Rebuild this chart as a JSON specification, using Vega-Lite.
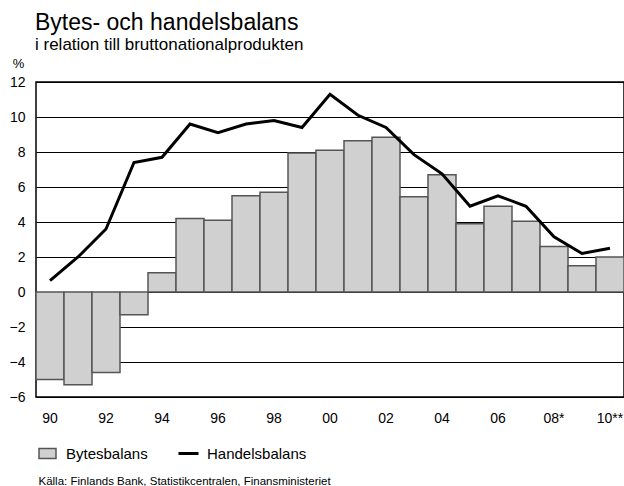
{
  "$schema": "https://vega.github.io/schema/vega-lite/v6.json",
  "width": 588,
  "height": 315,
  "autosize": "none",
  "padding": {"left": 36, "top": 82, "right": 0, "bottom": 89},
  "title": {
    "text": "Bytes- och handelsbalans",
    "subtitle": "i relation till bruttonationalprodukten",
    "anchor": "start",
    "frame": "group",
    "dx": -1,
    "offset": 4,
    "fontSize": 23,
    "fontWeight": "normal",
    "subtitleFontSize": 17,
    "subtitlePadding": 2,
    "color": "black",
    "subtitleColor": "black"
  },
  "config": {
    "font": "Liberation Sans",
    "view": {"stroke": "black", "strokeWidth": 1.5},
    "axis": {"labelColor": "black", "titleColor": "black", "labelFont": "Liberation Sans", "titleFont": "Liberation Sans", "labelFontWeight": "normal"},
    "legend": {"labelColor": "black", "labelFont": "Liberation Sans"}
  },
  "data": {
    "values": [
      {"year": 1990, "bytes": -5.0, "handel": 0.65},
      {"year": 1991, "bytes": -5.3, "handel": 2.0},
      {"year": 1992, "bytes": -4.6, "handel": 3.6},
      {"year": 1993, "bytes": -1.3, "handel": 7.4},
      {"year": 1994, "bytes": 1.1, "handel": 7.7},
      {"year": 1995, "bytes": 4.2, "handel": 9.6},
      {"year": 1996, "bytes": 4.1, "handel": 9.1},
      {"year": 1997, "bytes": 5.5, "handel": 9.6},
      {"year": 1998, "bytes": 5.7, "handel": 9.8},
      {"year": 1999, "bytes": 7.95, "handel": 9.4},
      {"year": 2000, "bytes": 8.1, "handel": 11.3},
      {"year": 2001, "bytes": 8.65, "handel": 10.1},
      {"year": 2002, "bytes": 8.85, "handel": 9.4},
      {"year": 2003, "bytes": 5.45, "handel": 7.85},
      {"year": 2004, "bytes": 6.7, "handel": 6.75},
      {"year": 2005, "bytes": 3.9, "handel": 4.9},
      {"year": 2006, "bytes": 4.9, "handel": 5.5},
      {"year": 2007, "bytes": 4.05, "handel": 4.9},
      {"year": 2008, "bytes": 2.6, "handel": 3.15},
      {"year": 2009, "bytes": 1.5, "handel": 2.2},
      {"year": 2010, "bytes": 2.0, "handel": 2.5}
    ]
  },
  "encoding": {
    "x": {
      "field": "year",
      "type": "ordinal",
      "scale": {"paddingInner": 0, "paddingOuter": 0},
      "axis": {
        "values": [1990, 1992, 1994, 1996, 1998, 2000, 2002, 2004, 2006, 2008, 2010],
        "labelExpr": "substring(datum.label, 2) + (datum.value == 2008 ? '*' : datum.value == 2010 ? '**' : '')",
        "labelAngle": 0,
        "labelFontSize": 14,
        "labelFontWeight": "normal",
        "labelPadding": 14,
        "labelOverlap": false,
        "ticks": false,
        "tickSize": 0,
        "domain": false,
        "grid": false,
        "title": "Källa: Finlands Bank, Statistikcentralen, Finansministeriet",
        "titleFontSize": 11.5,
        "titleFontWeight": "normal",
        "titleX": 2,
        "titleY": 84,
        "titleAlign": "left",
        "titleAnchor": "start",
        "titleBaseline": "middle"
      }
    }
  },
  "layer": [
    {
      "mark": {"type": "bar", "stroke": "#555555", "strokeWidth": 1.5},
      "encoding": {
        "y": {
          "field": "bytes",
          "type": "quantitative",
          "scale": {"domain": [-6, 12], "nice": false},
          "axis": {
            "values": [-6, -4, -2, 0, 2, 4, 6, 8, 10, 12],
            "tickCount": 20,
            "labelFontSize": 14,
            "labelFontWeight": "normal",
            "labelPadding": 11,
            "labelOverlap": false,
            "labelFlush": false,
            "labelBound": false,
            "ticks": false,
            "tickSize": 0,
            "domain": false,
            "grid": true,
            "gridColor": "black",
            "gridWidth": 1,
            "gridOpacity": 1,
            "title": "%",
            "titleAngle": 0,
            "titleFontSize": 13,
            "titleFontWeight": "normal",
            "titleX": -18,
            "titleY": -15,
            "titleAlign": "center",
            "titleBaseline": "alphabetic"
          }
        },
        "fill": {
          "datum": "Bytesbalans",
          "scale": {"range": ["#d0d0d0"]},
          "legend": {
            "orient": "none",
            "legendX": 2,
            "legendY": 362,
            "title": null,
            "padding": 0,
            "symbolType": "M-1,-0.6H1V0.6H-1Z",
            "symbolSize": 289,
            "symbolStrokeColor": "#555555",
            "symbolStrokeWidth": 1.5,
            "labelFontSize": 15,
            "labelOffset": 9
          }
        }
      }
    },
    {
      "mark": {"type": "line", "strokeWidth": 3},
      "encoding": {
        "y": {"field": "handel", "type": "quantitative"},
        "stroke": {
          "datum": "Handelsbalans",
          "scale": {"range": ["black"]},
          "legend": {
            "orient": "none",
            "legendX": 141,
            "legendY": 360,
            "title": null,
            "padding": 0,
            "symbolType": "stroke",
            "symbolSize": 400,
            "symbolStrokeWidth": 3,
            "labelFontSize": 15,
            "labelOffset": 7
          }
        }
      }
    }
  ]
}
